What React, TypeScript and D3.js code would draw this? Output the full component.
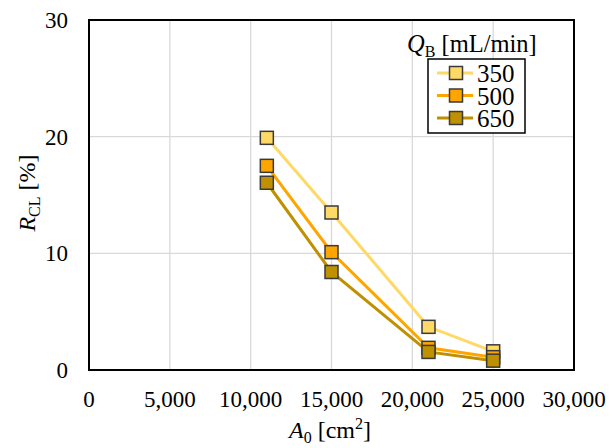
import React from "react";
import * as d3 from "d3";

const areas = [11000, 15000, 21000, 25000];
const series = ["350", "500", "650"];
const values350 = [19.9, 13.5, 3.7, 1.6];
const values500 = [17.5, 10.1, 1.9, 1.1];
const values650 = [16.05, 8.4, 1.55, 0.8];
const colors = ["#FFD966", "#FFA500", "#BF9000"];
const xTicks = [0, 5000, 10000, 15000, 20000, 25000, 30000];
const yTicks = [0, 10, 20, 30];

const W = 613, H = 448;
const M = { left: 89, right: 574, top: 20, bottom: 370 };
const FONT = "Liberation Serif, Times New Roman, serif";

export default function App() {
  const x = d3.scaleLinear().domain([0, 30000]).range([M.left, M.right]);
  const y = d3.scaleLinear().domain([0, 30]).range([M.bottom, M.top]);
  const allVals = [values350, values500, values650];
  const line = d3.line<[number, number]>().x((d) => x(d[0])).y((d) => y(d[1]));
  const fmt = d3.format(",");
  const ms = 13;
  const ts = { fontFamily: FONT };

  const legX = 428, legY = 59, legW = 97, legH = 74;
  return (
    <svg width={W} height={H} style={{ position: "absolute", left: 0, top: 0, background: "#fff", fontFamily: FONT }}>
      <rect x={0} y={0} width={W} height={H} fill="#fff" />
      {xTicks.slice(1, -1).map((t) => (
        <line key={"gx" + t} x1={x(t)} x2={x(t)} y1={M.top} y2={M.bottom} stroke="#d9d9d9" strokeWidth={1.3} />
      ))}
      {yTicks.slice(1, -1).map((t) => (
        <line key={"gy" + t} x1={M.left} x2={M.right} y1={y(t)} y2={y(t)} stroke="#d9d9d9" strokeWidth={1.3} />
      ))}
      <rect x={M.left} y={M.top} width={M.right - M.left} height={M.bottom - M.top} fill="none" stroke="#000" strokeWidth={2} />
      {xTicks.map((t) => (
        <text key={"xt" + t} style={ts} x={x(t)} y={M.bottom + 37} textAnchor="middle" fontSize={23} fill="#000">{fmt(t)}</text>
      ))}
      {yTicks.map((t) => (
        <text key={"yt" + t} style={ts} x={M.left - 21} y={y(t) + 8} textAnchor="end" fontSize={23} fill="#000">{t}</text>
      ))}
      <text style={ts} x={330} y={438} textAnchor="middle" fontSize={24} fill="#000">
        <tspan fontStyle="italic">A</tspan>
        <tspan fontSize={16} dy={5}>0</tspan>
        <tspan dy={-5}> [cm</tspan>
        <tspan fontSize={16} dy={-9}>2</tspan>
        <tspan dy={9}>]</tspan>
      </text>
      <text style={ts} transform={`translate(35,193) rotate(-90)`} textAnchor="middle" fontSize={24} fill="#000">
        <tspan fontStyle="italic">R</tspan>
        <tspan fontSize={16} dy={5}>CL</tspan>
        <tspan dy={-5}> [%]</tspan>
      </text>
      {allVals.map((vals, i) => (
        <path key={"l" + i} d={line(areas.map((a, j) => [a, vals[j]] as [number, number])) || ""} fill="none" stroke={colors[i]} strokeWidth={3} />
      ))}
      {allVals.map((vals, i) =>
        vals.map((v, j) => (
          <rect key={"m" + i + "-" + j} x={x(areas[j]) - ms / 2} y={y(v) - ms / 2} width={ms} height={ms} fill={colors[i]} stroke="#3a3a3a" strokeWidth={1.5} />
        ))
      )}
      <text style={ts} x={407} y={52} fontSize={24.5} fill="#000">
        <tspan fontStyle="italic">Q</tspan>
        <tspan fontSize={16} dy={5}>B</tspan>
        <tspan dy={-5}> [mL/min]</tspan>
      </text>
      <rect x={legX} y={legY} width={legW} height={legH} fill="#fff" stroke="#000" strokeWidth={1.5} />
      {series.map((s, i) => {
        const cy = 73 + i * 22.5;
        return (
          <g key={"lg" + s}>
            <line x1={437} x2={473} y1={cy} y2={cy} stroke={colors[i]} strokeWidth={3} />
            <rect x={456 - 6.5} y={cy - 6.5} width={13} height={13} fill={colors[i]} stroke="#3a3a3a" strokeWidth={1.5} />
            <text style={ts} x={477} y={cy + 9} fontSize={25} fill="#000">{s}</text>
          </g>
        );
      })}
    </svg>
  );
}
